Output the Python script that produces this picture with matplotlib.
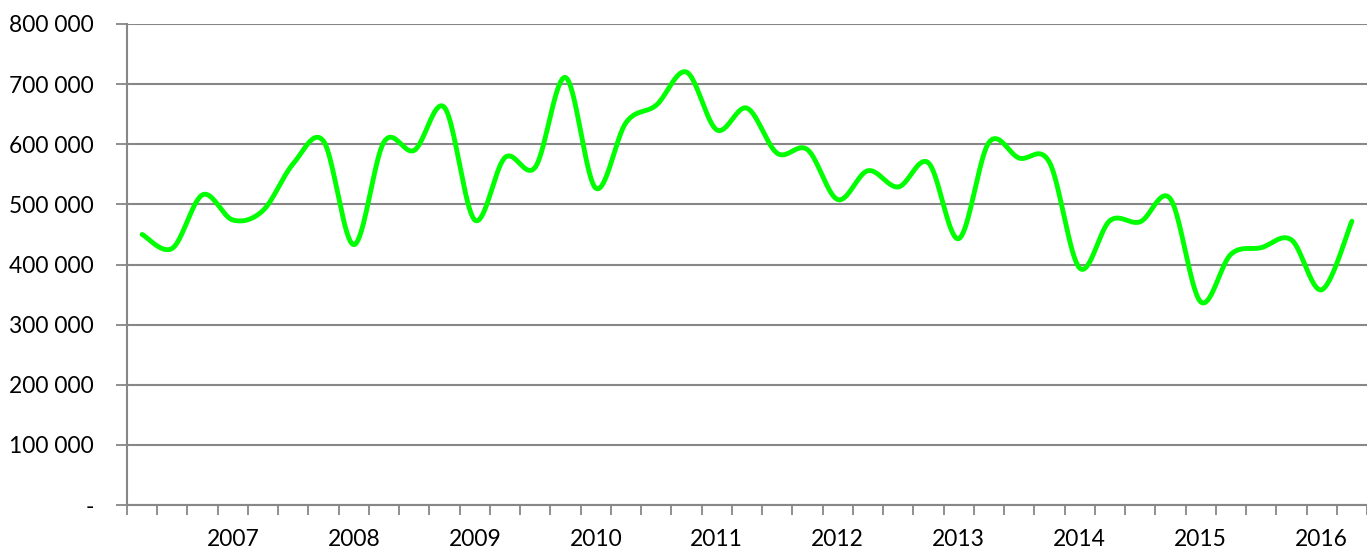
import matplotlib
matplotlib.use("Agg")
import matplotlib.pyplot as plt
import numpy as np

# quarterly values, 2006 Q2 .. 2016 Q2
values = [450000, 427000, 516000, 474000, 490000, 568000, 605000, 433000,
          604000, 590000, 661000, 474000, 578000, 562000, 711000, 527000,
          636000, 665000, 720000, 624000, 660000, 585000, 591000, 508000,
          556000, 529000, 569000, 443000, 603000, 577000, 570000, 394000,
          473000, 471000, 509000, 338000, 417000, 428000, 441000, 358000,
          472000]
year_labels = ["2007", "2008", "2009", "2010", "2011", "2012", "2013",
               "2014", "2015", "2016"]
year_positions = [3, 7, 11, 15, 19, 23, 27, 31, 35, 39]
y_ticks = [0, 100000, 200000, 300000, 400000, 500000, 600000, 700000, 800000]


def smooth(xs, ys, n=40):
    xs = np.asarray(xs, float)
    ys = np.asarray(ys, float)
    px = np.concatenate([[xs[0]], xs, [xs[-1]]])
    py = np.concatenate([[ys[0]], ys, [ys[-1]]])
    ox, oy = [], []
    t = np.linspace(0, 1, n)
    for i in range(1, len(px) - 2):
        p0 = np.array([px[i], py[i]])
        p3 = np.array([px[i + 1], py[i + 1]])
        c1 = p0 + (np.array([px[i + 1], py[i + 1]]) - np.array([px[i - 1], py[i - 1]])) / 6
        c2 = p3 - (np.array([px[i + 2], py[i + 2]]) - np.array([px[i], py[i]])) / 6
        b = ((1 - t) ** 3)[:, None] * p0 + (3 * (1 - t) ** 2 * t)[:, None] * c1 \
            + (3 * (1 - t) * t ** 2)[:, None] * c2 + (t ** 3)[:, None] * p3
        ox.extend(b[:, 0])
        oy.extend(b[:, 1])
    return np.array(ox), np.array(oy)


W, H = 1367, 549
fig = plt.figure(figsize=(W / 100, H / 100), dpi=100)
ax = fig.add_axes([127 / W, 1 - 505 / H, 1 - 127 / W, (505 - 24) / H])

grid_col = "#878787"
xs = np.arange(len(values))
sx, sy = smooth(xs, values)
ax.plot(sx, sy, color="#00FF00", lw=3.5, solid_capstyle="round", zorder=3)

ax.set_xlim(-0.5, len(values) - 0.5)
ax.set_ylim(0, 800000)

ax.set_yticks(y_ticks)
ax.set_yticklabels(["-" if v == 0 else f"{v:,}".replace(",", " ") for v in y_ticks])
ax.yaxis.grid(True, color=grid_col, lw=1.5)
ax.set_axisbelow(True)

ax.set_xticks(year_positions)
ax.set_xticklabels(year_labels)
ax.set_xticks(np.arange(-0.5, len(values), 1.0), minor=True)
ax.tick_params(axis="x", which="major", length=0, pad=17)
ax.tick_params(axis="x", which="minor", length=7, width=1.3, color=grid_col)
ax.tick_params(axis="y", length=8, width=1.3, color=grid_col, pad=16)
for lab in ax.get_yticklabels() + ax.get_xticklabels():
    lab.set_fontfamily("Lato")
    lab.set_fontsize(16.4)
    lab.set_color("#000000")

for s in ["top", "right"]:
    ax.spines[s].set_visible(False)
for s in ["left", "bottom"]:
    ax.spines[s].set_color(grid_col)
    ax.spines[s].set_linewidth(1.5)

fig.savefig("out.png", dpi=100)
